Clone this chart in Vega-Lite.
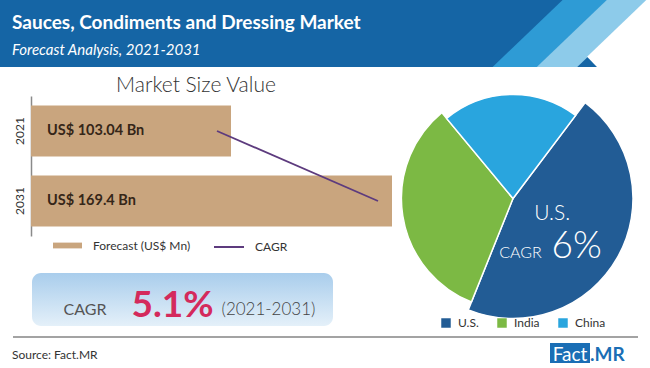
{
  "$schema": "https://vega.github.io/schema/vega-lite/v6.json",
  "padding": 0,
  "spacing": 8,
  "background": "#ffffff",
  "config": {
    "font": "Lato",
    "view": {"stroke": null},
    "axis": {"grid": false}
  },
  "vconcat": [
    {
      "width": 650,
      "height": 67,
      "view": {"fill": "#1565a5", "stroke": null},
      "title": {
        "text": "Sauces, Condiments and Dressing Market",
        "subtitle": "Forecast Analysis, 2021-2031",
        "anchor": "start",
        "frame": "group",
        "orient": "top",
        "offset": -58,
        "dx": 12,
        "color": "#ffffff",
        "subtitleColor": "#ffffff",
        "fontSize": 19,
        "fontWeight": "bold",
        "subtitleFontSize": 15,
        "subtitleFontStyle": "italic",
        "subtitlePadding": 10,
        "font": "Lato",
        "subtitleFont": "Lato"
      },
      "data": {"values": [{"band": "header"}]},
      "layer": [
        {
          "mark": {"type": "rule", "clip": true, "stroke": "#2e9bd5", "strokeWidth": 31, "strokeCap": "butt"},
          "encoding": {
            "x": {"datum": 605.9, "type": "quantitative", "scale": {"domain": [0, 650], "nice": false, "zero": false}, "axis": null},
            "x2": {"datum": 494.1},
            "y": {"datum": -20, "type": "quantitative", "scale": {"domain": [0, 67], "nice": false, "reverse": true}, "axis": null},
            "y2": {"datum": 87}
          }
        },
        {
          "mark": {"type": "rule", "clip": true, "stroke": "#8dcbea", "strokeWidth": 28, "strokeCap": "butt"},
          "encoding": {
            "x": {"datum": 647.9, "type": "quantitative"},
            "x2": {"datum": 536.1},
            "y": {"datum": -20, "type": "quantitative"},
            "y2": {"datum": 87}
          }
        },
        {
          "mark": {"type": "rule", "clip": true, "stroke": "#ffffff", "strokeWidth": 84, "strokeCap": "butt"},
          "encoding": {
            "x": {"datum": 727.9, "type": "quantitative"},
            "x2": {"datum": 616.1},
            "y": {"datum": -20, "type": "quantitative"},
            "y2": {"datum": 87}
          }
        }
      ]
    },
    {
      "spacing": 1,
      "hconcat": [
        {
          "spacing": 37,
          "vconcat": [
            {
              "width": 392,
              "height": 140,
              "title": {
                "text": "Market Size Value",
                "fontSize": 21,
                "fontWeight": 300,
                "color": "#333333",
                "anchor": "middle",
                "frame": "group",
                "offset": 0
              },
              "data": {
                "values": [
                  {"year": "2021", "value": 103.04, "label": "US$ 103.04 Bn"},
                  {"year": "2031", "value": 169.4, "label": "US$ 169.4 Bn"}
                ]
              },
              "encoding": {
                "y": {
                  "field": "year",
                  "type": "nominal",
                  "scale": {"paddingInner": 0.27, "paddingOuter": 0.135},
                  "axis": {
                    "title": null,
                    "offset": -31,
                    "labelAngle": -90,
                    "labelFontSize": 12,
                    "labelColor": "#333333",
                    "labelFont": "Lato",
                    "ticks": false,
                    "domainColor": "#8a8a8a",
                    "domainWidth": 1.5,
                    "labelPadding": 5,
                    "minExtent": 0,
                    "maxExtent": 0
                  }
                }
              },
              "layer": [
                {
                  "mark": {"type": "bar"},
                  "encoding": {
                    "x": {"field": "value", "type": "quantitative", "scale": {"domain": [20.6, 169.4], "range": [31, 392], "zero": false, "nice": false}, "axis": null},
                    "x2": {"datum": 20.6},
                    "fill": {
                      "datum": "Forecast (US$ Mn)",
                      "scale": {"range": ["#c9a57e"]},
                      "legend": {
                        "orient": "none",
                        "legendX": 53,
                        "legendY": 231,
                        "title": null,
                        "padding": 0,
                        "symbolType": "M-1,-0.2H1V0.2H-1Z",
                        "symbolSize": 841,
                        "symbolStrokeWidth": 0,
                        "labelFontSize": 12,
                        "labelColor": "#333333",
                        "labelOffset": 11
                      }
                    }
                  }
                },
                {
                  "mark": {"type": "line", "strokeWidth": 1.8, "xOffset": -14},
                  "encoding": {
                    "x": {"field": "value", "type": "quantitative"},
                    "stroke": {
                      "datum": "CAGR",
                      "scale": {"range": ["#5d3b7e"]},
                      "legend": {
                        "orient": "none",
                        "legendX": 213,
                        "legendY": 231,
                        "title": null,
                        "padding": 0,
                        "symbolType": "stroke",
                        "symbolSize": 900,
                        "symbolStrokeWidth": 2,
                        "labelFontSize": 12,
                        "labelColor": "#333333",
                        "labelOffset": 10
                      }
                    }
                  }
                },
                {
                  "mark": {"type": "text", "align": "left", "baseline": "middle", "dx": 16, "fontWeight": "bold", "fontSize": 14.5, "color": "#352618"},
                  "encoding": {
                    "x": {"datum": 20.6, "type": "quantitative"},
                    "text": {"field": "label"}
                  }
                }
              ]
            },
            {
              "spacing": 0,
              "hconcat": [
                {
                  "width": 32,
                  "height": 53,
                  "data": {"values": [{"gap": ""}]},
                  "mark": {"type": "text"},
                  "encoding": {"text": {"field": "gap"}}
                },
                {
                  "width": 301,
                  "height": 53,
                  "view": {
                    "fill": {
                      "gradient": "linear",
                      "x1": 0, "y1": 0, "x2": 0, "y2": 1,
                      "stops": [
                        {"offset": 0, "color": "#a9cdec"},
                        {"offset": 1, "color": "#e4f0f9"}
                      ]
                    },
                    "cornerRadius": 9,
                    "stroke": null
                  },
                  "layer": [
                    {
                      "data": {"values": [{"t": "CAGR"}]},
                      "mark": {"type": "text", "align": "left", "baseline": "alphabetic", "dx": -119, "dy": 15, "fontSize": 16, "color": "#555555"},
                      "encoding": {"text": {"field": "t"}}
                    },
                    {
                      "data": {"values": [{"t": "5.1%"}]},
                      "mark": {"type": "text", "align": "left", "baseline": "alphabetic", "dx": -51, "dy": 17, "fontSize": 37, "fontWeight": "bold", "color": "#d42a5c"},
                      "encoding": {"text": {"field": "t"}}
                    },
                    {
                      "data": {"values": [{"t": "(2021-2031)"}]},
                      "mark": {"type": "text", "align": "left", "baseline": "alphabetic", "dx": 39, "dy": 15, "fontSize": 17, "fontWeight": 300, "color": "#444444"},
                      "encoding": {"text": {"field": "t"}}
                    }
                  ]
                }
              ]
            }
          ]
        },
        {
          "width": 240,
          "height": 205,
          "data": {
            "values": [
              {"region": "U.S.", "share": 45.8, "rank": 1, "name": "U.S.", "cagr_title": "CAGR", "cagr": "6%"},
              {"region": "India", "share": 32.9, "rank": 2, "name": "", "cagr_title": "", "cagr": ""},
              {"region": "China", "share": 21.3, "rank": 3, "name": "", "cagr_title": "", "cagr": ""}
            ]
          },
          "encoding": {
            "theta": {"field": "share", "type": "quantitative", "stack": true, "scale": {"range": [0.6458, 6.929]}},
            "order": {"field": "rank", "type": "quantitative"}
          },
          "layer": [
            {
              "mark": {"type": "arc", "stroke": "#ffffff", "strokeWidth": 1.5},
              "encoding": {
                "radius": {"field": "share", "type": "quantitative", "scale": {"zero": false, "nice": false, "range": [104, 120]}},
                "radius2": {"value": 0},
                "color": {
                  "field": "region",
                  "type": "nominal",
                  "scale": {"domain": ["U.S.", "India", "China"], "range": ["#225c95", "#7cb944", "#29a5de"]},
                  "legend": {
                    "orient": "none",
                    "legendX": 440,
                    "legendY": 317,
                    "direction": "horizontal",
                    "title": null,
                    "padding": 0,
                    "symbolType": "square",
                    "symbolSize": 90,
                    "symbolStrokeWidth": 0,
                    "labelFontSize": 12,
                    "labelColor": "#333333",
                    "labelOffset": 6,
                    "columnPadding": 17
                  }
                }
              }
            },
            {
              "mark": {"type": "text", "radius": 45, "dx": 0, "dy": -7, "fontSize": 21, "fontWeight": 300, "color": "#ffffff"},
              "encoding": {"detail": {"field": "region"}, "text": {"field": "name"}}
            },
            {
              "mark": {"type": "text", "radius": 20, "dx": -10, "dy": 45, "fontSize": 16, "fontWeight": 300, "color": "#ffffff"},
              "encoding": {"detail": {"field": "region"}, "text": {"field": "cagr_title"}}
            },
            {
              "mark": {"type": "text", "radius": 80, "dx": -6, "dy": 9, "fontSize": 37, "fontWeight": 300, "color": "#ffffff"},
              "encoding": {"detail": {"field": "region"}, "text": {"field": "cagr"}}
            }
          ]
        }
      ]
    },
    {
      "width": 650,
      "height": 35,
      "data": {"values": [{"t": "Source: Fact.MR", "brand": "Fact", "suffix": ".MR"}]},
      "layer": [
        {
          "mark": {"type": "rule", "stroke": "#a3a3a3", "strokeWidth": 2},
          "encoding": {
            "x": {"datum": 13, "type": "quantitative", "scale": {"domain": [0, 650], "nice": false, "zero": false}, "axis": null},
            "x2": {"datum": 638},
            "y": {"datum": 3, "type": "quantitative", "scale": {"domain": [0, 35], "nice": false, "reverse": true}, "axis": null}
          }
        },
        {
          "mark": {"type": "text", "align": "left", "baseline": "alphabetic", "fontSize": 12, "color": "#333333"},
          "encoding": {
            "x": {"datum": 12, "type": "quantitative"},
            "y": {"datum": 25, "type": "quantitative"},
            "text": {"field": "t"}
          }
        },
        {
          "mark": {"type": "rect", "fill": "#1a6eb5"},
          "encoding": {
            "x": {"datum": 550, "type": "quantitative"},
            "x2": {"datum": 590},
            "y": {"datum": 9, "type": "quantitative"},
            "y2": {"datum": 29}
          }
        },
        {
          "mark": {"type": "text", "align": "center", "baseline": "alphabetic", "fontSize": 19, "color": "#ffffff"},
          "encoding": {
            "x": {"datum": 570, "type": "quantitative"},
            "y": {"datum": 26.5, "type": "quantitative"},
            "text": {"field": "brand"}
          }
        },
        {
          "mark": {"type": "text", "align": "left", "baseline": "alphabetic", "fontSize": 19, "fontWeight": "bold", "color": "#1a6eb5"},
          "encoding": {
            "x": {"datum": 590, "type": "quantitative"},
            "y": {"datum": 26.5, "type": "quantitative"},
            "text": {"field": "suffix"}
          }
        }
      ]
    }
  ]
}
